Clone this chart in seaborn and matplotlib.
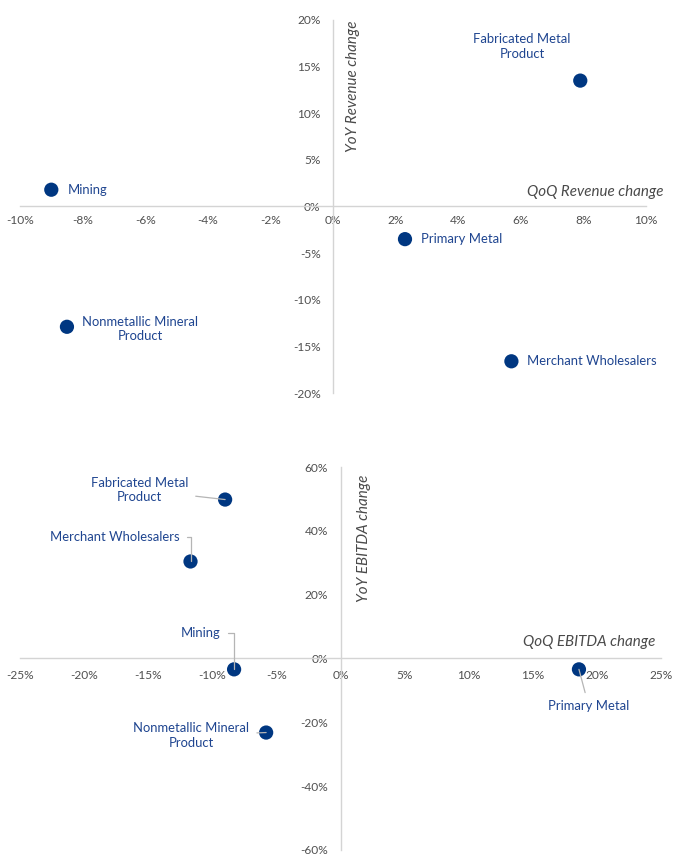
import matplotlib
matplotlib.use("Agg")
import matplotlib.pyplot as plt
import matplotlib.ticker as mticker
import seaborn as sns
import pandas as pd

# ---- data -----------------------------------------------------------------
sectors = ["Mining", "Fabricated Metal\nProduct", "Primary Metal",
           "Nonmetallic Mineral\nProduct", "Merchant Wholesalers"]

qoq_revenue = [-9.0, 7.9, 2.3, -8.5, 5.7]       # %
yoy_revenue = [1.8, 13.5, -3.5, -12.9, -16.6]   # %

qoq_ebitda = [-8.3, -9.0, 18.6, -5.8, -11.7]    # %
yoy_ebitda = [-3.4, 49.8, -3.4, -23.2, 30.4]    # %

rev_xticks = [-10, -8, -6, -4, -2, 0, 2, 4, 6, 8, 10]
rev_yticks = [-20, -15, -10, -5, 0, 5, 10, 15, 20]
ebit_xticks = [-25, -20, -15, -10, -5, 0, 5, 10, 15, 20, 25]
ebit_yticks = [-60, -40, -20, 0, 20, 40, 60]

# ---- style ----------------------------------------------------------------
sns.set_style("white")
plt.rcParams["font.family"] = ["Lato", "DejaVu Sans"]

NAVY = "#003781"
LABEL = "#1f4590"
AXIS = "#d4d4d4"
TICK = "#505050"
TITLE = "#4a4a4a"

fig = plt.figure(figsize=(6.75, 8.55), dpi=100)
ax1 = fig.add_axes([20 / 675, 1 - 393 / 855, 626 / 675, 373 / 855])
ax2 = fig.add_axes([20 / 675, 1 - 850 / 855, 641 / 675, 383 / 855])


def style_cross_axes(ax, xticks, yticks, xpad, ypad):
    ax.set_xlim(xticks[0], xticks[-1])
    ax.set_ylim(yticks[0], yticks[-1])
    ax.set_xticks(xticks)
    ax.set_yticks(yticks)
    fmt = mticker.FuncFormatter(lambda v, _: f"{v:.0f}%")
    ax.xaxis.set_major_formatter(fmt)
    ax.yaxis.set_major_formatter(fmt)
    for side in ("top", "right"):
        ax.spines[side].set_visible(False)
    for side in ("left", "bottom"):
        ax.spines[side].set_position("zero")
        ax.spines[side].set_color(AXIS)
        ax.spines[side].set_linewidth(1.0)
    ax.tick_params(axis="x", length=0, pad=xpad, labelsize=8.6, labelcolor=TICK)
    ax.tick_params(axis="y", length=0, pad=ypad, labelsize=8.6, labelcolor=TICK)
    ax.set_xlabel("")
    ax.set_ylabel("")
    ax.patch.set_alpha(0)


# ---- revenue panel ----------------------------------------------------------
rev = pd.DataFrame({"sector": sectors, "qoq": qoq_revenue, "yoy": yoy_revenue})
sns.scatterplot(data=rev, x="qoq", y="yoy", ax=ax1, s=105, color=NAVY,
                edgecolor="none", zorder=4, legend=False)
style_cross_axes(ax1, rev_xticks, rev_yticks, xpad=6, ypad=9)

rev_label_offsets = {
    "Mining": ((11.5, 0), "left"),
    "Fabricated Metal\nProduct": ((-42, 24.5), "center"),
    "Primary Metal": ((11.5, 0), "left"),
    "Nonmetallic Mineral\nProduct": ((11, -1.5), "left"),
    "Merchant Wholesalers": ((11.5, 0), "left"),
}
for _, r in rev.iterrows():
    (dx, dy), ha = rev_label_offsets[r["sector"]]
    ax1.annotate(r["sector"], (r["qoq"], r["yoy"]), xytext=(dx, dy),
                 textcoords="offset points", ha=ha, va="center",
                 multialignment="center", fontsize=9.4, color=LABEL,
                 linespacing=1.25)

ax1.text(10.55, 1.6, "QoQ Revenue change", ha="right", va="center",
         fontsize=10.9, style="italic", color=TITLE)
ax1.text(0.65, 20, "YoY Revenue change", ha="center", va="top",
         rotation=90, fontsize=10.9, style="italic", color=TITLE)

# ---- EBITDA panel -----------------------------------------------------------
ebit = pd.DataFrame({"sector": sectors, "qoq": qoq_ebitda, "yoy": yoy_ebitda})
sns.scatterplot(data=ebit, x="qoq", y="yoy", ax=ax2, s=105, color=NAVY,
                edgecolor="none", zorder=4, legend=False)
style_cross_axes(ax2, ebit_xticks, ebit_yticks, xpad=8, ypad=9)

# offset (points), horizontal alignment, vertical alignment, connector style
ebit_label_layout = {
    "Mining": ((-9.5, 26.5), "right", "center", "angle,angleA=0,angleB=90,rad=0"),
    "Fabricated Metal\nProduct": ((-26.5, 7), "right", "center", "arc3,rad=0"),
    "Primary Metal": ((7, -22), "center", "top", "arc3,rad=0"),
    "Nonmetallic Mineral\nProduct": ((-12, -2), "right", "center", "arc3,rad=0"),
    "Merchant Wholesalers": ((-8, 17.5), "right", "center", "angle,angleA=0,angleB=90,rad=0"),
}
for _, r in ebit.iterrows():
    (dx, dy), ha, va, conn = ebit_label_layout[r["sector"]]
    ax2.annotate(r["sector"], (r["qoq"], r["yoy"]), xytext=(dx, dy),
                 textcoords="offset points", ha=ha, va=va,
                 multialignment="center", fontsize=9.4, color=LABEL,
                 linespacing=1.25, zorder=5,
                 arrowprops=dict(arrowstyle="-", color="#b5b5b5", lw=0.9,
                                 connectionstyle=conn, shrinkA=3, shrinkB=0))

ax2.text(24.6, 5.3, "QoQ EBITDA change", ha="right", va="center",
         fontsize=10.9, style="italic", color=TITLE)
ax2.text(1.85, 57.5, "YoY EBITDA change", ha="center", va="top",
         rotation=90, fontsize=10.9, style="italic", color=TITLE)

fig.savefig("out.png", dpi=100, facecolor="white")
